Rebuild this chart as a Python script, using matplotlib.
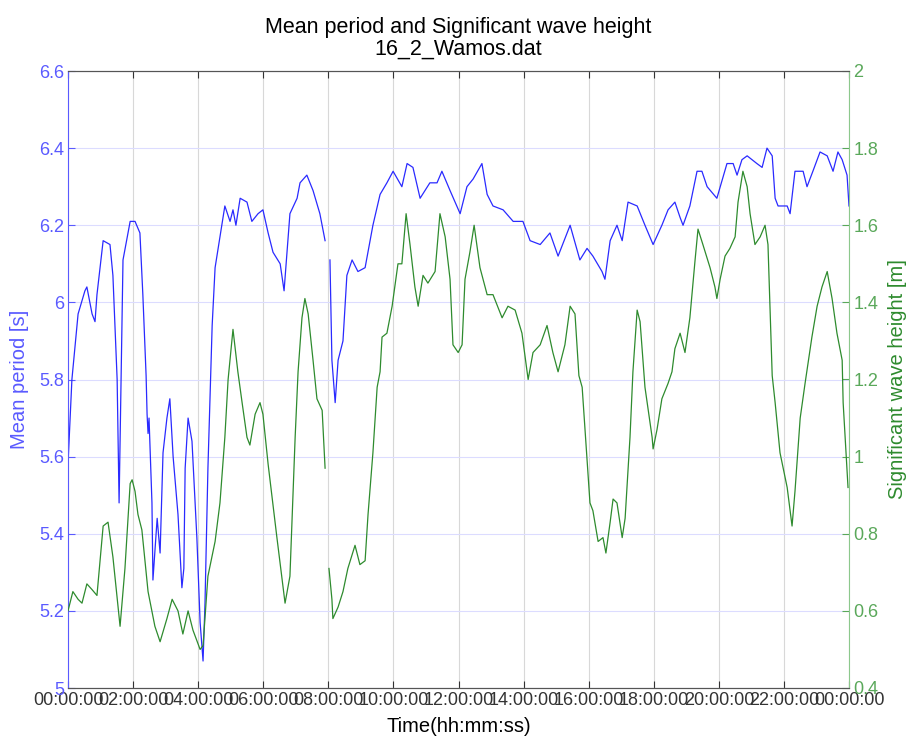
import numpy as np
import matplotlib
matplotlib.use('Agg')
import matplotlib.pyplot as plt

plt.rcParams['font.family'] = ['Liberation Sans', 'DejaVu Sans']

# Mean period [s] vs time (hours)
period_hours = [0.00, 0.12, 0.31, 0.52, 0.58, 0.74, 0.83, 0.89, 1.08, 1.29, 1.38, 1.51, 1.57, 1.69, 1.91,
                2.06, 2.21, 2.30, 2.40, 2.43, 2.46, 2.49, 2.58, 2.61, 2.74, 2.83, 2.92, 3.04, 3.13, 3.23,
                3.38, 3.50, 3.56, 3.60, 3.69, 3.81, 3.96, 4.06, 4.15, 4.21, 4.30, 4.43, 4.52, 4.67, 4.82,
                4.98, 5.07, 5.16, 5.29, 5.50, 5.65, 5.84, 5.99, 6.15, 6.30, 6.52, 6.64, 6.82, 7.04, 7.13,
                7.34, 7.53, 7.74, 7.90, 7.96, 8.05, 8.11, 8.21, 8.30, 8.45, 8.57, 8.73, 8.91, 9.13, 9.37,
                9.59, 9.80, 9.99, 10.26, 10.42, 10.60, 10.82, 11.12, 11.34, 11.49, 11.74, 12.05, 12.26,
                12.45, 12.72, 12.88, 13.06, 13.37, 13.68, 13.98, 14.20, 14.51, 14.81, 15.06, 15.43, 15.73,
                15.95, 16.13, 16.41, 16.50, 16.66, 16.87, 17.03, 17.21, 17.49, 17.73, 17.98, 18.25, 18.44,
                18.65, 18.81, 18.90, 19.11, 19.33, 19.48, 19.64, 19.94, 20.25, 20.44, 20.56, 20.71, 20.87,
                21.17, 21.33, 21.48, 21.64, 21.73, 21.82, 22.10, 22.19, 22.34, 22.59, 22.71, 22.89, 23.11,
                23.33, 23.51, 23.66, 23.79, 23.94, 24.00]
period_values = [5.58, 5.80, 5.97, 6.03, 6.04, 5.97, 5.95, 6.02, 6.16, 6.15, 6.07, 5.80, 5.48, 6.11, 6.21,
                 6.21, 6.18, 6.02, 5.81, 5.71, 5.66, 5.70, 5.48, 5.28, 5.44, 5.35, 5.61, 5.70, 5.75, 5.60,
                 5.45, 5.26, 5.31, 5.57, 5.70, 5.64, 5.39, 5.17, 5.07, 5.22, 5.57, 5.94, 6.09, 6.17, 6.25,
                 6.21, 6.24, 6.20, 6.27, 6.26, 6.21, 6.23, 6.24, 6.18, 6.13, 6.10, 6.03, 6.23, 6.27, 6.31,
                 6.33, 6.29, 6.23, 6.16, np.nan, 6.11, 5.85, 5.74, 5.85, 5.90, 6.07, 6.11, 6.08, 6.09, 6.20,
                 6.28, 6.31, 6.34, 6.30, 6.36, 6.35, 6.27, 6.31, 6.31, 6.34, 6.29, 6.23, 6.30,
                 6.32, 6.36, 6.28, 6.25, 6.24, 6.21, 6.21, 6.16, 6.15, 6.18, 6.12, 6.20, 6.11,
                 6.14, 6.12, 6.08, 6.06, 6.16, 6.20, 6.16, 6.26, 6.25, 6.20, 6.15, 6.20, 6.24,
                 6.26, 6.22, 6.20, 6.25, 6.34, 6.34, 6.30, 6.27, 6.36, 6.36, 6.33, 6.37, 6.38,
                 6.36, 6.35, 6.40, 6.38, 6.27, 6.25, 6.25, 6.23, 6.34, 6.34, 6.30, 6.34, 6.39,
                 6.38, 6.34, 6.39, 6.37, 6.33, 6.25]

# Significant wave height [m] vs time (hours)
height_hours = [0.00, 0.15, 0.31, 0.43, 0.58, 0.74, 0.89, 1.08, 1.23, 1.38, 1.60, 1.75, 1.91, 1.97, 2.06,
                2.15, 2.27, 2.46, 2.67, 2.83, 3.04, 3.20, 3.38, 3.53, 3.69, 3.84, 4.06, 4.15, 4.30, 4.52,
                4.67, 4.82, 4.92, 5.07, 5.22, 5.35, 5.50, 5.59, 5.75, 5.90, 5.99, 6.15, 6.42, 6.67, 6.82,
                6.98, 7.07, 7.19, 7.28, 7.38, 7.53, 7.65, 7.81, 7.90, 7.96, 8.02, 8.11, 8.14, 8.30, 8.45,
                8.60, 8.82, 8.97, 9.13, 9.22, 9.37, 9.50, 9.59, 9.65, 9.80, 9.96, 10.14, 10.26, 10.39,
                10.51, 10.66, 10.76, 10.91, 11.06, 11.28, 11.43, 11.59, 11.74, 11.83, 11.99, 12.11, 12.20,
                12.35, 12.48, 12.66, 12.88, 13.06, 13.34, 13.52, 13.74, 13.95, 14.14, 14.29, 14.51, 14.72,
                14.90, 15.06, 15.27, 15.43, 15.58, 15.70, 15.80, 15.95, 16.04, 16.13, 16.29, 16.44, 16.53,
                16.66, 16.75, 16.87, 17.03, 17.12, 17.27, 17.36, 17.49, 17.58, 17.73, 17.95, 17.98, 18.10,
                18.25, 18.44, 18.56, 18.65, 18.81, 18.96, 19.11, 19.27, 19.36, 19.51, 19.73, 19.88, 19.94,
                20.04, 20.19, 20.34, 20.50, 20.59, 20.74, 20.87, 20.96, 21.11, 21.27, 21.42, 21.51, 21.64,
                21.73, 21.88, 22.10, 22.25, 22.34, 22.50, 22.65, 22.86, 23.02, 23.17, 23.33, 23.48, 23.63,
                23.79, 23.82, 23.97]
height_values = [0.60, 0.65, 0.63, 0.62, 0.67, 0.655, 0.64, 0.82, 0.83, 0.74, 0.56, 0.71, 0.93, 0.94, 0.91,
                 0.85, 0.81, 0.65, 0.56, 0.52, 0.58, 0.63, 0.60, 0.54, 0.60, 0.55, 0.50, 0.51, 0.69, 0.78,
                 0.88, 1.05, 1.20, 1.33, 1.22, 1.14, 1.05, 1.03, 1.11, 1.14, 1.11, 0.98, 0.79, 0.62, 0.69,
                 1.05, 1.22, 1.36, 1.41, 1.37, 1.25, 1.15, 1.12, 0.97, np.nan, 0.71, 0.63, 0.58, 0.61, 0.65,
                 0.71, 0.77, 0.72, 0.73, 0.85, 1.01, 1.18, 1.22, 1.31, 1.32, 1.39, 1.50, 1.50, 1.63,
                 1.55, 1.44, 1.39, 1.47, 1.45, 1.48, 1.63, 1.57, 1.46, 1.29, 1.27, 1.29, 1.46,
                 1.53, 1.60, 1.49, 1.42, 1.42, 1.36, 1.39, 1.38, 1.32, 1.20, 1.27, 1.29, 1.34,
                 1.27, 1.22, 1.29, 1.39, 1.37, 1.21, 1.18, 0.99, 0.88, 0.86, 0.78, 0.79, 0.75,
                 0.83, 0.89, 0.88, 0.79, 0.84, 1.05, 1.22, 1.38, 1.35, 1.18, 1.05, 1.02, 1.07,
                 1.15, 1.19, 1.22, 1.28, 1.32, 1.27, 1.36, 1.51, 1.59, 1.55, 1.49, 1.44, 1.41,
                 1.46, 1.52, 1.54, 1.57, 1.66, 1.74, 1.70, 1.63, 1.55, 1.57, 1.60, 1.55, 1.21,
                 1.14, 1.01, 0.92, 0.82, 0.91, 1.10, 1.19, 1.31, 1.39, 1.44, 1.48, 1.41, 1.32,
                 1.25, 1.14, 0.92]

xtick_hours = list(range(0, 25, 2))
xtick_labels = ['00:00:00', '02:00:00', '04:00:00', '06:00:00', '08:00:00', '10:00:00', '12:00:00',
                '14:00:00', '16:00:00', '18:00:00', '20:00:00', '22:00:00', '00:00:00']
left_ticks = [5, 5.2, 5.4, 5.6, 5.8, 6, 6.2, 6.4, 6.6]
left_labels = ['5', '5.2', '5.4', '5.6', '5.8', '6', '6.2', '6.4', '6.6']
right_ticks = [0.4, 0.6, 0.8, 1.0, 1.2, 1.4, 1.6, 1.8, 2.0]
right_labels = ['0.4', '0.6', '0.8', '1', '1.2', '1.4', '1.6', '1.8', '2']

BLUE = '#2a2aff'
GREEN = '#2e8b2e'
BLUE_AX = '#5a5aff'
GREEN_AX = '#5aa85a'

fig = plt.figure(figsize=(9.09, 7.38), dpi=100)
ax1 = fig.add_axes([68 / 909, 1 - 688 / 738, (849 - 68) / 909, (688 - 71) / 738])
ax2 = ax1.twinx()

ax1.plot(period_hours, period_values, color=BLUE, lw=0.9)
ax2.plot(height_hours, height_values, color=GREEN, lw=0.9)

ax1.set_xlim(0, 24)
ax1.set_ylim(5, 6.6)
ax2.set_ylim(0.4, 2.0)

ax1.set_xticks(xtick_hours)
ax1.set_xticklabels(xtick_labels)
ax1.set_yticks(left_ticks)
ax1.set_yticklabels(left_labels)
ax2.set_yticks(right_ticks)
ax2.set_yticklabels(right_labels)

ax1.grid(axis='x', color='#d8d8d8', lw=0.8)
ax1.grid(axis='y', color='#dcdcff', lw=0.8)
ax1.set_axisbelow(True)

fs = 13
ax1.tick_params(axis='x', direction='in', top=True, length=5, labelsize=fs, colors='#333333', pad=3)
ax1.tick_params(axis='y', direction='in', length=5, labelsize=fs, colors=BLUE_AX, labelcolor=BLUE_AX, pad=3)
ax2.tick_params(axis='y', direction='in', length=5, labelsize=fs, colors=GREEN_AX, labelcolor=GREEN_AX, pad=3)

for s in ('top', 'bottom'):
    ax1.spines[s].set_color('#555555')
    ax2.spines[s].set_color('#555555')
ax1.spines['left'].set_color(BLUE_AX)
ax2.spines['left'].set_visible(False)
ax1.spines['right'].set_visible(False)
ax2.spines['right'].set_color('#8cc88c')

ax1.set_ylabel('Mean period [s]', color=BLUE_AX, fontsize=14.5, labelpad=7)
ax2.set_ylabel('Significant wave height [m]', color=GREEN, fontsize=14.5, labelpad=7)
ax1.set_xlabel('Time(hh:mm:ss)', fontsize=14.5, labelpad=6)
ax1.set_title('Mean period and Significant wave height\n16_2_Wamos.dat', fontsize=15.5, pad=12,
              linespacing=1.05)

fig.savefig('out.png', dpi=100)
